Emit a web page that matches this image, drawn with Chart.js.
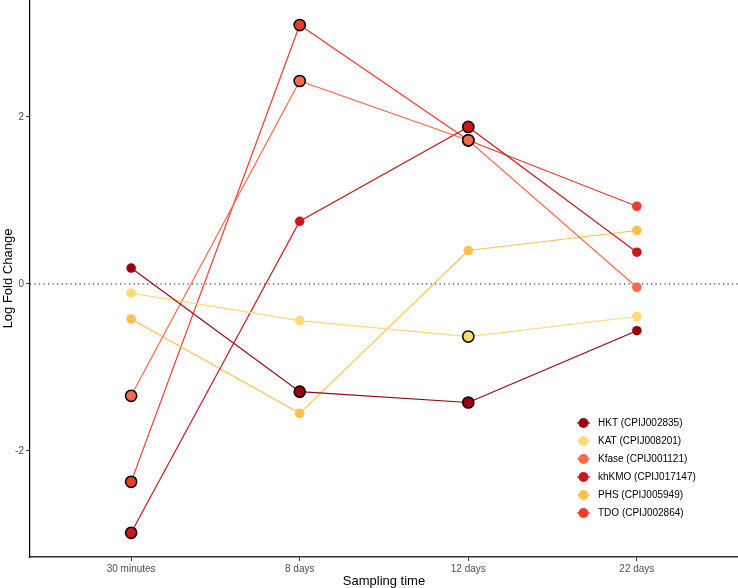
<!DOCTYPE html>
<html>
<head>
<meta charset="utf-8">
<script src="https://cdn.jsdelivr.net/npm/chart.js@4.4.1/dist/chart.umd.min.js"></script>
<style>
  html, body { margin:0; padding:0; background:#fff; }
  #wrap { width:738px; height:588px; }
</style>
</head>
<body>
<div id="wrap"><canvas id="myChart" width="738" height="588"></canvas></div>
<script>
// sampling times (x categories)
let times = ['30 minutes', '8 days', '12 days', '22 days'];
let yTicks = [-2, 0, 2];

let genes = ['HKT (CPIJ002835)', 'KAT (CPIJ008201)', 'Kfase (CPIJ001121)', 'khKMO (CPIJ017147)', 'PHS (CPIJ005949)', 'TDO (CPIJ002864)'];
let palette = ['#99000d', '#fed976', '#fb6a4a', '#cb181d', '#fec04c', '#ef3b2c'];

// log fold change per gene
let hkt   = [0.19, -1.29, -1.42, -0.56];
let kat   = [-0.11, -0.44, -0.63, -0.39];
let kfase = [-1.34, 2.43, 1.72, -0.04];
let khkmo = [-2.98, 0.75, 1.88, 0.38];
let phs   = [-0.42, -1.55, 0.40, 0.64];
let tdo   = [-2.37, 3.10, 1.72, 0.93];

// significant points (black outline)
let hkt_sig   = [false, true, true, false];
let kat_sig   = [false, false, true, false];
let kfase_sig = [true, true, true, false];
let khkmo_sig = [true, false, true, false];
let phs_sig   = [false, false, false, false];
let tdo_sig   = [true, true, true, false];

let values = [hkt, kat, kfase, khkmo, phs, tdo];
let sigs = [hkt_sig, kat_sig, kfase_sig, khkmo_sig, phs_sig, tdo_sig];

function to_points(vals){
  return vals.map((v, i) => ({x: i, y: v}));
}

let datasets = [];
// points first in the list -> drawn on top
values.forEach((vals, idx) => {
  datasets.push({
    type: 'scatter',
    label: genes[idx],
    data: to_points(vals),
    backgroundColor: palette[idx],
    pointRadius: sigs[idx].map(s => s ? 5.6 : 4.8),
    pointBorderColor: sigs[idx].map(s => s ? '#000000' : palette[idx]),
    pointBorderWidth: sigs[idx].map(s => s ? 1.5 : 0),
    showLine: false,
    clip: false,
    order: 0
  });
});
values.forEach((vals, idx) => {
  datasets.push({
    type: 'line',
    label: genes[idx] + ' line',
    data: to_points(vals),
    borderColor: palette[idx],
    borderWidth: 1.2,
    pointRadius: 0,
    tension: 0,
    fill: false,
    order: 1
  });
});

let zeroLine = {
  id: 'zeroLine',
  beforeDatasetsDraw(chart){
    let ctx = chart.ctx;
    let area = chart.chartArea;
    let y = chart.scales.y.getPixelForValue(0);
    ctx.save();
    ctx.strokeStyle = '#000';
    ctx.lineWidth = 1;
    ctx.setLineDash([1.2, 3.3]);
    ctx.beginPath();
    ctx.moveTo(area.left, y);
    ctx.lineTo(area.right, y);
    ctx.stroke();
    ctx.restore();
  }
};

let ggLegend = {
  id: 'ggLegend',
  afterDraw(chart){
    let ctx = chart.ctx;
    ctx.save();
    ctx.font = '10px "Liberation Sans", Arial, sans-serif';
    ctx.textBaseline = 'middle';
    ctx.textAlign = 'left';
    genes.forEach((g, i) => {
      let y = 423 + i * 18;
      ctx.strokeStyle = palette[i];
      ctx.lineWidth = 1.2;
      ctx.beginPath();
      ctx.moveTo(577, y);
      ctx.lineTo(590, y);
      ctx.stroke();
      ctx.fillStyle = palette[i];
      ctx.beginPath();
      ctx.arc(583.5, y, 5, 0, Math.PI * 2);
      ctx.fill();
      ctx.fillStyle = '#000';
      ctx.fillText(g, 598, y + 0.5);
    });
    ctx.restore();
  }
};

Chart.defaults.font.family = '"Liberation Sans", Arial, sans-serif';

let settings = {
  data: { datasets: datasets },
  options: {
    responsive: false,
    devicePixelRatio: 1,
    animation: false,
    layout: { padding: 0, autoPadding: false },
    plugins: {
      legend: { display: false },
      tooltip: { enabled: false }
    },
    scales: {
      x: {
        type: 'linear',
        min: -0.6,
        max: 3.6,
        afterBuildTicks: scale => { scale.ticks = times.map((t, i) => ({value: i})); },
        afterFit: scale => { scale.height = 31; scale.paddingLeft = 0; scale.paddingRight = 0; },
        ticks: {
          callback: v => times[v],
          autoSkip: false,
          maxRotation: 0,
          padding: 2,
          color: '#4d4d4d',
          font: { size: 10 }
        },
        grid: { drawOnChartArea: false, drawTicks: true, tickLength: 4, color: '#333333' },
        border: { display: true, color: '#333333', width: 1.4 },
        title: {
          display: true,
          text: 'Sampling time',
          color: '#000',
          font: { size: 13, lineHeight: 1 },
          padding: { top: 0, bottom: 0 }
        }
      },
      y: {
        type: 'linear',
        min: -3.27,
        max: 3.40,
        afterBuildTicks: scale => { scale.ticks = yTicks.map(v => ({value: v})); },
        afterFit: scale => { scale.width = 30; scale.paddingTop = 0; scale.paddingBottom = 0; },
        ticks: {
          padding: 2,
          color: '#4d4d4d',
          font: { size: 10 }
        },
        grid: { drawOnChartArea: false, drawTicks: true, tickLength: 4, color: '#333333' },
        border: { display: true, color: '#000000', width: 1.2 },
        title: {
          display: true,
          text: 'Log Fold Change',
          color: '#000',
          font: { size: 13, lineHeight: 1 },
          padding: { top: 2, bottom: 0 }
        }
      }
    }
  },
  plugins: [zeroLine, ggLegend]
};

window.onload = function(){
  window.chart = new Chart('myChart', settings);
};
</script>
</body>
</html>
